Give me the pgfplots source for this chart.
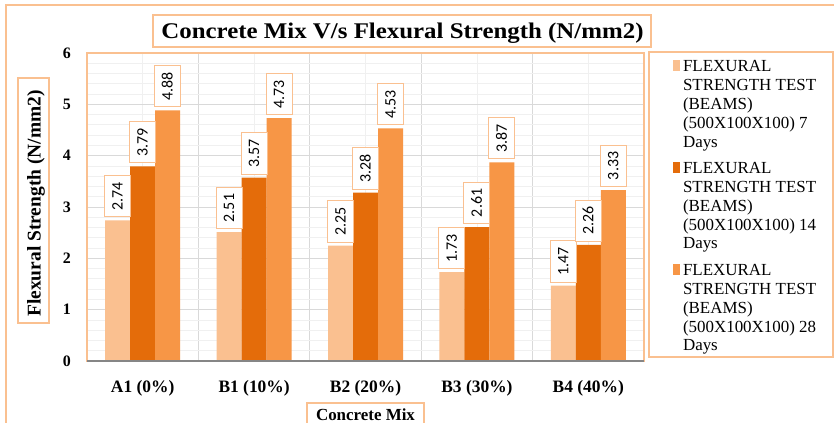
\documentclass[border=0pt]{standalone}
\usepackage{fontspec}
\setmainfont{Liberation Serif}
\newfontfamily\carlito{Carlito}
\usepackage{graphicx}
\usepackage{pgfplots}
\pgfplotsset{compat=1.18}

\definecolor{cA}{HTML}{FAC090}
\definecolor{cB}{HTML}{E46C0A}
\definecolor{cC}{HTML}{F79646}
\definecolor{frameC}{HTML}{FAC090}
\definecolor{gridmaj}{HTML}{D9D9D9}
\definecolor{gridmin}{HTML}{F0F0F0}
\definecolor{axisgray}{HTML}{868686}

% legend text, broken as in the reference (smashed so that rows are spaced by row sep only)
\newcommand{\legtext}[1]{\smash{\parbox[t]{150bp}{\fontsize{17}{19}\selectfont FLEXURAL\\STRENGTH TEST\\(BEAMS)\\(500X100X100) #1\\Days}}}

\begin{document}
\begin{tikzpicture}[x=1bp,y=1bp]
\useasboundingbox (0,0) rectangle (834,422);
\clip (0,0) rectangle (834,422);
\fill[white] (0,0) rectangle (834,422);
% outer frame (cut off at the right and bottom)
\draw[frameC, line width=2bp] (6,-10) -- (6,417) -- (850,417);

\begin{axis}[
  at={(87bp,61bp)}, anchor=south west,
  scale only axis, width=557bp, height=308bp,
  ybar=0pt, bar width=25bp,
  xmin=-0.5, xmax=4.5, ymin=0, ymax=6,
  xtick={-0.5,0.5,...,4.5}, xticklabels={},
  minor xtick={0,1,2,3,4},
  extra x ticks={0,1,2,3,4},
  extra x tick labels={A1 (0\%),B1 (10\%),B2 (20\%),B3 (30\%),B4 (40\%)},
  extra x tick style={grid=none},
  ytick={0,1,...,6}, minor y tick num=4,
  grid=both,
  major grid style={gridmaj, line width=0.8bp},
  minor grid style={gridmin, line width=0.8bp},
  major tick length=0pt, minor tick length=0pt,
  axis line style={frameC, line width=1.2bp},
  /pgf/number format/assume math mode=true,
  xticklabel style={font=\fontsize{17.5}{20}\selectfont\bfseries, inner sep=0pt, yshift=-19bp},
  yticklabel style={font=\fontsize{16}{19}\selectfont\bfseries, inner sep=0pt, xshift=-16bp},
  nodes near coords,
  nodes near coords style={rotate=90, anchor=west, font=\fontsize{16}{19}\selectfont\carlito,
    text=black, fill=white, draw=frameC, line width=1bp,
    inner xsep=6.5bp, inner ysep=8bp, text height=10bp, text depth=0bp, outer xsep=3.5bp,
    /pgf/number format/fixed, /pgf/number format/precision=2, /pgf/number format/fixed zerofill},
  legend style={draw=none, fill=none, at={(1.0521,0.978)}, anchor=north west,
    inner sep=0pt, outer sep=0pt, row sep=89bp, column sep=3bp,
    cells={anchor=base west}, nodes={inner sep=0pt, text=black}},
  legend image code/.code={\path (0bp,0bp) rectangle (7bp,11.5bp);
    \fill[#1] (0bp,4.5bp) rectangle (7bp,11.5bp);},
]
\addplot[fill=cA, draw=none] coordinates {(0,2.74) (1,2.51) (2,2.25) (3,1.73) (4,1.47)};
\addlegendentry{\legtext{7}}
\addplot[fill=cB, draw=none] coordinates {(0,3.79) (1,3.57) (2,3.28) (3,2.61) (4,2.26)};
\addlegendentry{\legtext{14}}
\addplot[fill=cC, draw=none] coordinates {(0,4.88) (1,4.73) (2,4.53) (3,3.87) (4,3.33)};
\addlegendentry{\legtext{28}}
\draw[axisgray, line width=1.5bp] (rel axis cs:0,0) -- (rel axis cs:1,0);
\end{axis}

% legend frame
\draw[frameC, line width=2.5bp] (649,65) rectangle (833,370);
% title
\draw[frameC, line width=2bp, fill=white] (153,375) rectangle (651,407);
\node[anchor=base, inner sep=0pt] at (402.5,383.7)
  {\scalebox{1.11}[1]{\fontsize{22.5}{27}\selectfont\bfseries Concrete Mix V/s Flexural Strength (N/mm2)}};
% y label
\draw[frameC, line width=2bp] (18,99) rectangle (49,344);
\node[anchor=base, rotate=90, inner sep=0pt] at (40.7,218.5)
  {\fontsize{19.5}{23}\selectfont\bfseries Flexural Strength (N/mm2)};
% x label
\draw[frameC, line width=2bp, fill=white] (307,-10) rectangle (424,19);
\node[anchor=base, inner sep=0pt] at (365.5,1.5)
  {\fontsize{17}{20}\selectfont\bfseries Concrete Mix};
\end{tikzpicture}
\end{document}
